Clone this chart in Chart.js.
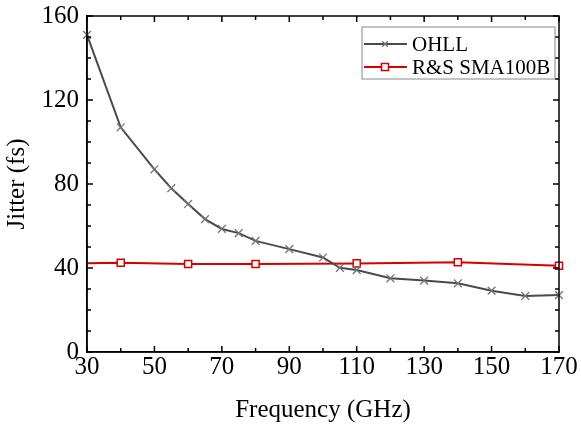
<!DOCTYPE html>
<html>
<head>
<meta charset="utf-8">
<script src="https://cdn.jsdelivr.net/npm/chart.js@4.4.1/dist/chart.umd.min.js"></script>
<style>
  body { margin: 0; background: #fff; }
  canvas { display: block; }
</style>
</head>
<body>
<canvas id="jitterChart" width="581" height="431"></canvas>
<script>
// OHLL measurement (gray, x markers)
var ohllFreq = [30, 40, 50, 55, 60, 65, 70, 75, 80, 90, 100, 105, 110, 120, 130, 140, 150, 160, 170];
var ohllJitter = [151, 107, 87, 78, 70.5, 63.3, 58.6, 56.6, 52.9, 49, 45, 40.1, 39, 35.1, 34, 32.7, 29.2, 26.7, 27.1];

// R&S SMA100B reference (red, squares)
var smaFreq = [30, 40, 60, 80, 110, 140, 170];
var smaJitter = [42.3, 42.5, 41.9, 41.9, 42.2, 42.7, 41.1];

var seriesNames = ["OHLL", "R&S SMA100B"];
var xTitle = "Frequency (GHz)";
var yTitle = "Jitter (fs)";

var serif = "'Liberation Serif', 'Times New Roman', serif";

function toPoints(xs, ys) {
    var pts = [];
    for (var i = 0; i < xs.length; i++) {
        pts.push({x: xs[i], y: ys[i]});
    }
    return pts;
}

// frame + inward ticks on all four sides
var framePlugin = {
    id: 'frame',
    afterDatasetsDraw: function(chart) {
        var ctx = chart.ctx;
        var a = chart.chartArea;
        var xs = chart.scales.x, ys = chart.scales.y;
        ctx.save();
        ctx.strokeStyle = '#000';
        ctx.lineWidth = 1.5;
        ctx.strokeRect(a.left, a.top, a.right - a.left, a.bottom - a.top);
        ctx.beginPath();
        for (var v = xs.min; v <= xs.max; v += 10) {
            var px = xs.getPixelForValue(v);
            var len = ((v - xs.min) % 20 === 0) ? 6 : 4;
            ctx.moveTo(px, a.bottom); ctx.lineTo(px, a.bottom - len);
            ctx.moveTo(px, a.top); ctx.lineTo(px, a.top + len);
        }
        for (var w = ys.min; w <= ys.max; w += 10) {
            var py = ys.getPixelForValue(w);
            var len2 = (w % 40 === 0) ? 6 : 4;
            ctx.moveTo(a.left, py); ctx.lineTo(a.left + len2, py);
            ctx.moveTo(a.right, py); ctx.lineTo(a.right - len2, py);
        }
        ctx.stroke();
        ctx.restore();
    }
};

// boxed legend inside the plot, top right
var legendPlugin = {
    id: 'boxLegend',
    afterDraw: function(chart) {
        var ctx = chart.ctx;
        var a = chart.chartArea;
        var boxR = a.right - 4, boxL = boxR - 193, boxT = a.top + 11, boxB = boxT + 52;
        ctx.save();
        ctx.strokeStyle = '#888';
        ctx.lineWidth = 1;
        ctx.fillStyle = '#fff';
        ctx.fillRect(boxL, boxT, boxR - boxL, boxB - boxT);
        ctx.strokeRect(boxL, boxT, boxR - boxL, boxB - boxT);
        chart.data.datasets.forEach(function(ds, i) {
            var y = boxT + 17 + i * 23;
            ctx.strokeStyle = ds.borderColor;
            ctx.lineWidth = 2;
            ctx.beginPath();
            ctx.moveTo(boxL + 2, y);
            ctx.lineTo(boxL + 45, y);
            ctx.stroke();
            ctx.strokeStyle = ds.pointBorderColor;
            ctx.fillStyle = ds.pointBackgroundColor;
            ctx.lineWidth = ds.pointBorderWidth;
            Chart.helpers.drawPoint(ctx, {
                pointStyle: ds.pointStyle,
                radius: ds.legendRadius,
                borderWidth: ds.pointBorderWidth
            }, boxL + 23, y);
            ctx.fillStyle = '#000';
            ctx.font = '21px ' + serif;
            ctx.textBaseline = 'middle';
            ctx.textAlign = 'left';
            ctx.fillText(ds.label, boxL + 50, y + 1);
        });
        ctx.restore();
    }
};

var ctx = document.getElementById("jitterChart").getContext("2d");

var config = {
    type: 'line',
    data: {
        datasets: [{
            label: seriesNames[0],
            data: toPoints(ohllFreq, ohllJitter),
            borderColor: '#4a4a4a',
            borderWidth: 2,
            pointStyle: 'crossRot',
            pointRadius: 5.5,
            legendRadius: 4,
            pointBorderColor: '#747474',
            pointBorderWidth: 1.3,
            pointBackgroundColor: '#747474',
            tension: 0,
            fill: false,
            clip: 8
        }, {
            label: seriesNames[1],
            data: toPoints(smaFreq, smaJitter),
            borderColor: 'rgb(215, 0, 0)',
            borderWidth: 2,
            pointStyle: 'rect',
            pointRadius: [0, 5, 5, 5, 5, 5, 5],
            legendRadius: 5,
            pointBorderColor: 'rgb(215, 0, 0)',
            pointBorderWidth: 1.5,
            pointBackgroundColor: '#fff',
            tension: 0,
            fill: false,
            clip: 8
        }]
    },
    options: {
        responsive: false,
        animation: false,
        layout: { padding: { top: 16, right: 22, bottom: 0, left: 0 } },
        plugins: {
            legend: { display: false },
            tooltip: { enabled: false }
        },
        scales: {
            x: {
                type: 'linear',
                min: 30,
                max: 170,
                grid: { display: false, drawTicks: false },
                border: { display: true, color: '#000', width: 1.5 },
                ticks: {
                    stepSize: 20,
                    padding: 0,
                    color: '#000',
                    maxRotation: 0,
                    font: { family: serif, size: 25 }
                },
                title: {
                    display: true,
                    text: xTitle,
                    color: '#000',
                    padding: { top: 0, bottom: 6 },
                    font: { family: serif, size: 25 }
                },
                afterFit: function(scale) {
                    scale.height = 79;
                    scale.paddingLeft = 0;
                    scale.paddingRight = 0;
                }
            },
            y: {
                min: 0,
                max: 160,
                grid: { display: false, drawTicks: false },
                border: { display: true, color: '#000', width: 1.5 },
                ticks: {
                    stepSize: 40,
                    padding: 8,
                    color: '#000',
                    font: { family: serif, size: 25 }
                },
                title: {
                    display: true,
                    text: yTitle,
                    color: '#000',
                    padding: { top: 2, bottom: 0 },
                    font: { family: serif, size: 25 }
                },
                afterFit: function(scale) {
                    scale.width = 87;
                    scale.paddingTop = 0;
                    scale.paddingBottom = 0;
                }
            }
        }
    },
    plugins: [framePlugin, legendPlugin]
};

window.jitterChart = new Chart(ctx, config);
</script>
</body>
</html>
